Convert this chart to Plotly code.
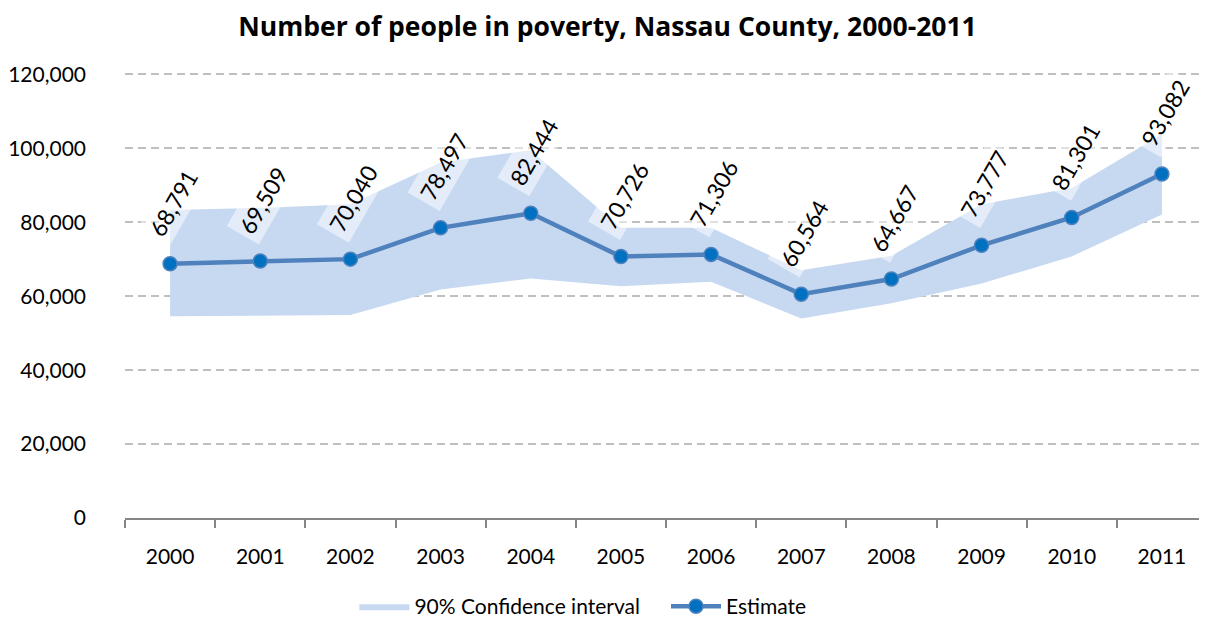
import plotly.graph_objects as go

years = ["2000", "2001", "2002", "2003", "2004", "2005", "2006", "2007", "2008", "2009", "2010", "2011"]
estimate = [68791, 69509, 70040, 78497, 82444, 70726, 71306, 60564, 64667, 73777, 81301, 93082]
ci_upper = [83300, 83900, 84900, 96200, 99500, 78500, 78500, 67000, 70950, 84900, 89300, 103800]
ci_lower = [54600, 54700, 54900, 61850, 64800, 62700, 63900, 54000, 58100, 63450, 70770, 82100]
y_ticks = [0, 20000, 40000, 60000, 80000, 100000, 120000]

FONT = "Lato, 'Open Sans', sans-serif"
TITLE_FONT = "'Open Sans', Lato, sans-serif"

fig = go.Figure()
fig.add_trace(go.Scatter(x=years, y=ci_lower, mode="lines", line=dict(width=0),
                         showlegend=False, hoverinfo="skip"))
fig.add_trace(go.Scatter(x=years, y=ci_upper, mode="lines", line=dict(width=0),
                         fill="tonexty", fillcolor="#C6D9F1",
                         name="90% Confidence interval", legend="legend"))
fig.add_trace(go.Scatter(x=years, y=estimate, mode="lines+markers",
                         line=dict(color="#4F81BD", width=4.5),
                         marker=dict(color="#0070C0", size=14,
                                     line=dict(color="#4F81BD", width=1.5)),
                         name="Estimate", legend="legend2"))

for i, v in enumerate(estimate):
    fig.add_annotation(x=i, y=v, text=f"{v:,}", showarrow=False,
                       textangle=-60, xanchor="center", yanchor="middle",
                       xshift=3, yshift=61, bgcolor="rgba(255,255,255,0.5)",
                       borderpad=4,
                       font=dict(family=FONT, size=23, color="#000000"))

fig.update_layout(
    width=1199, height=619,
    margin=dict(l=114, r=0, t=65, b=106),
    paper_bgcolor="white", plot_bgcolor="white",
    font=dict(family=FONT, size=21, color="#000000"),
    title=dict(text="<b>Number of people in poverty, Nassau County, 2000-2011</b>",
               x=0.5, xref="container", xanchor="center", y=0.969, yanchor="middle",
               font=dict(family=TITLE_FONT, size=26.5, color="#000000")),
    showlegend=True,
    legend=dict(orientation="h", x=0.212, xanchor="left", y=-0.199, yanchor="middle",
                font=dict(family=FONT, size=21), bgcolor="rgba(0,0,0,0)", itemwidth=50),
    legend2=dict(orientation="h", x=0.500, xanchor="left", y=-0.199, yanchor="middle",
                 font=dict(family=FONT, size=21), bgcolor="rgba(0,0,0,0)", itemwidth=50),
)
fig.update_xaxes(type="category", range=[-0.5, 11.5], showline=True,
                 linecolor="#868686", linewidth=1.5, ticks="outside",
                 tickson="boundaries", ticklen=8, tickcolor="#868686",
                 tickwidth=1.5, showgrid=False, ticklabelstandoff=19,
                 tickfont=dict(family=FONT, size=21))
fig.update_yaxes(range=[0, 120400], tickvals=y_ticks, tickformat=",d",
                 showgrid=True, gridcolor="#BFBFBF", griddash="8px,5px", gridwidth=1.5,
                 zeroline=False, showline=False, ticks="", ticklabelstandoff=38,
                 tickfont=dict(family=FONT, size=21))

fig.write_html("out.html")
